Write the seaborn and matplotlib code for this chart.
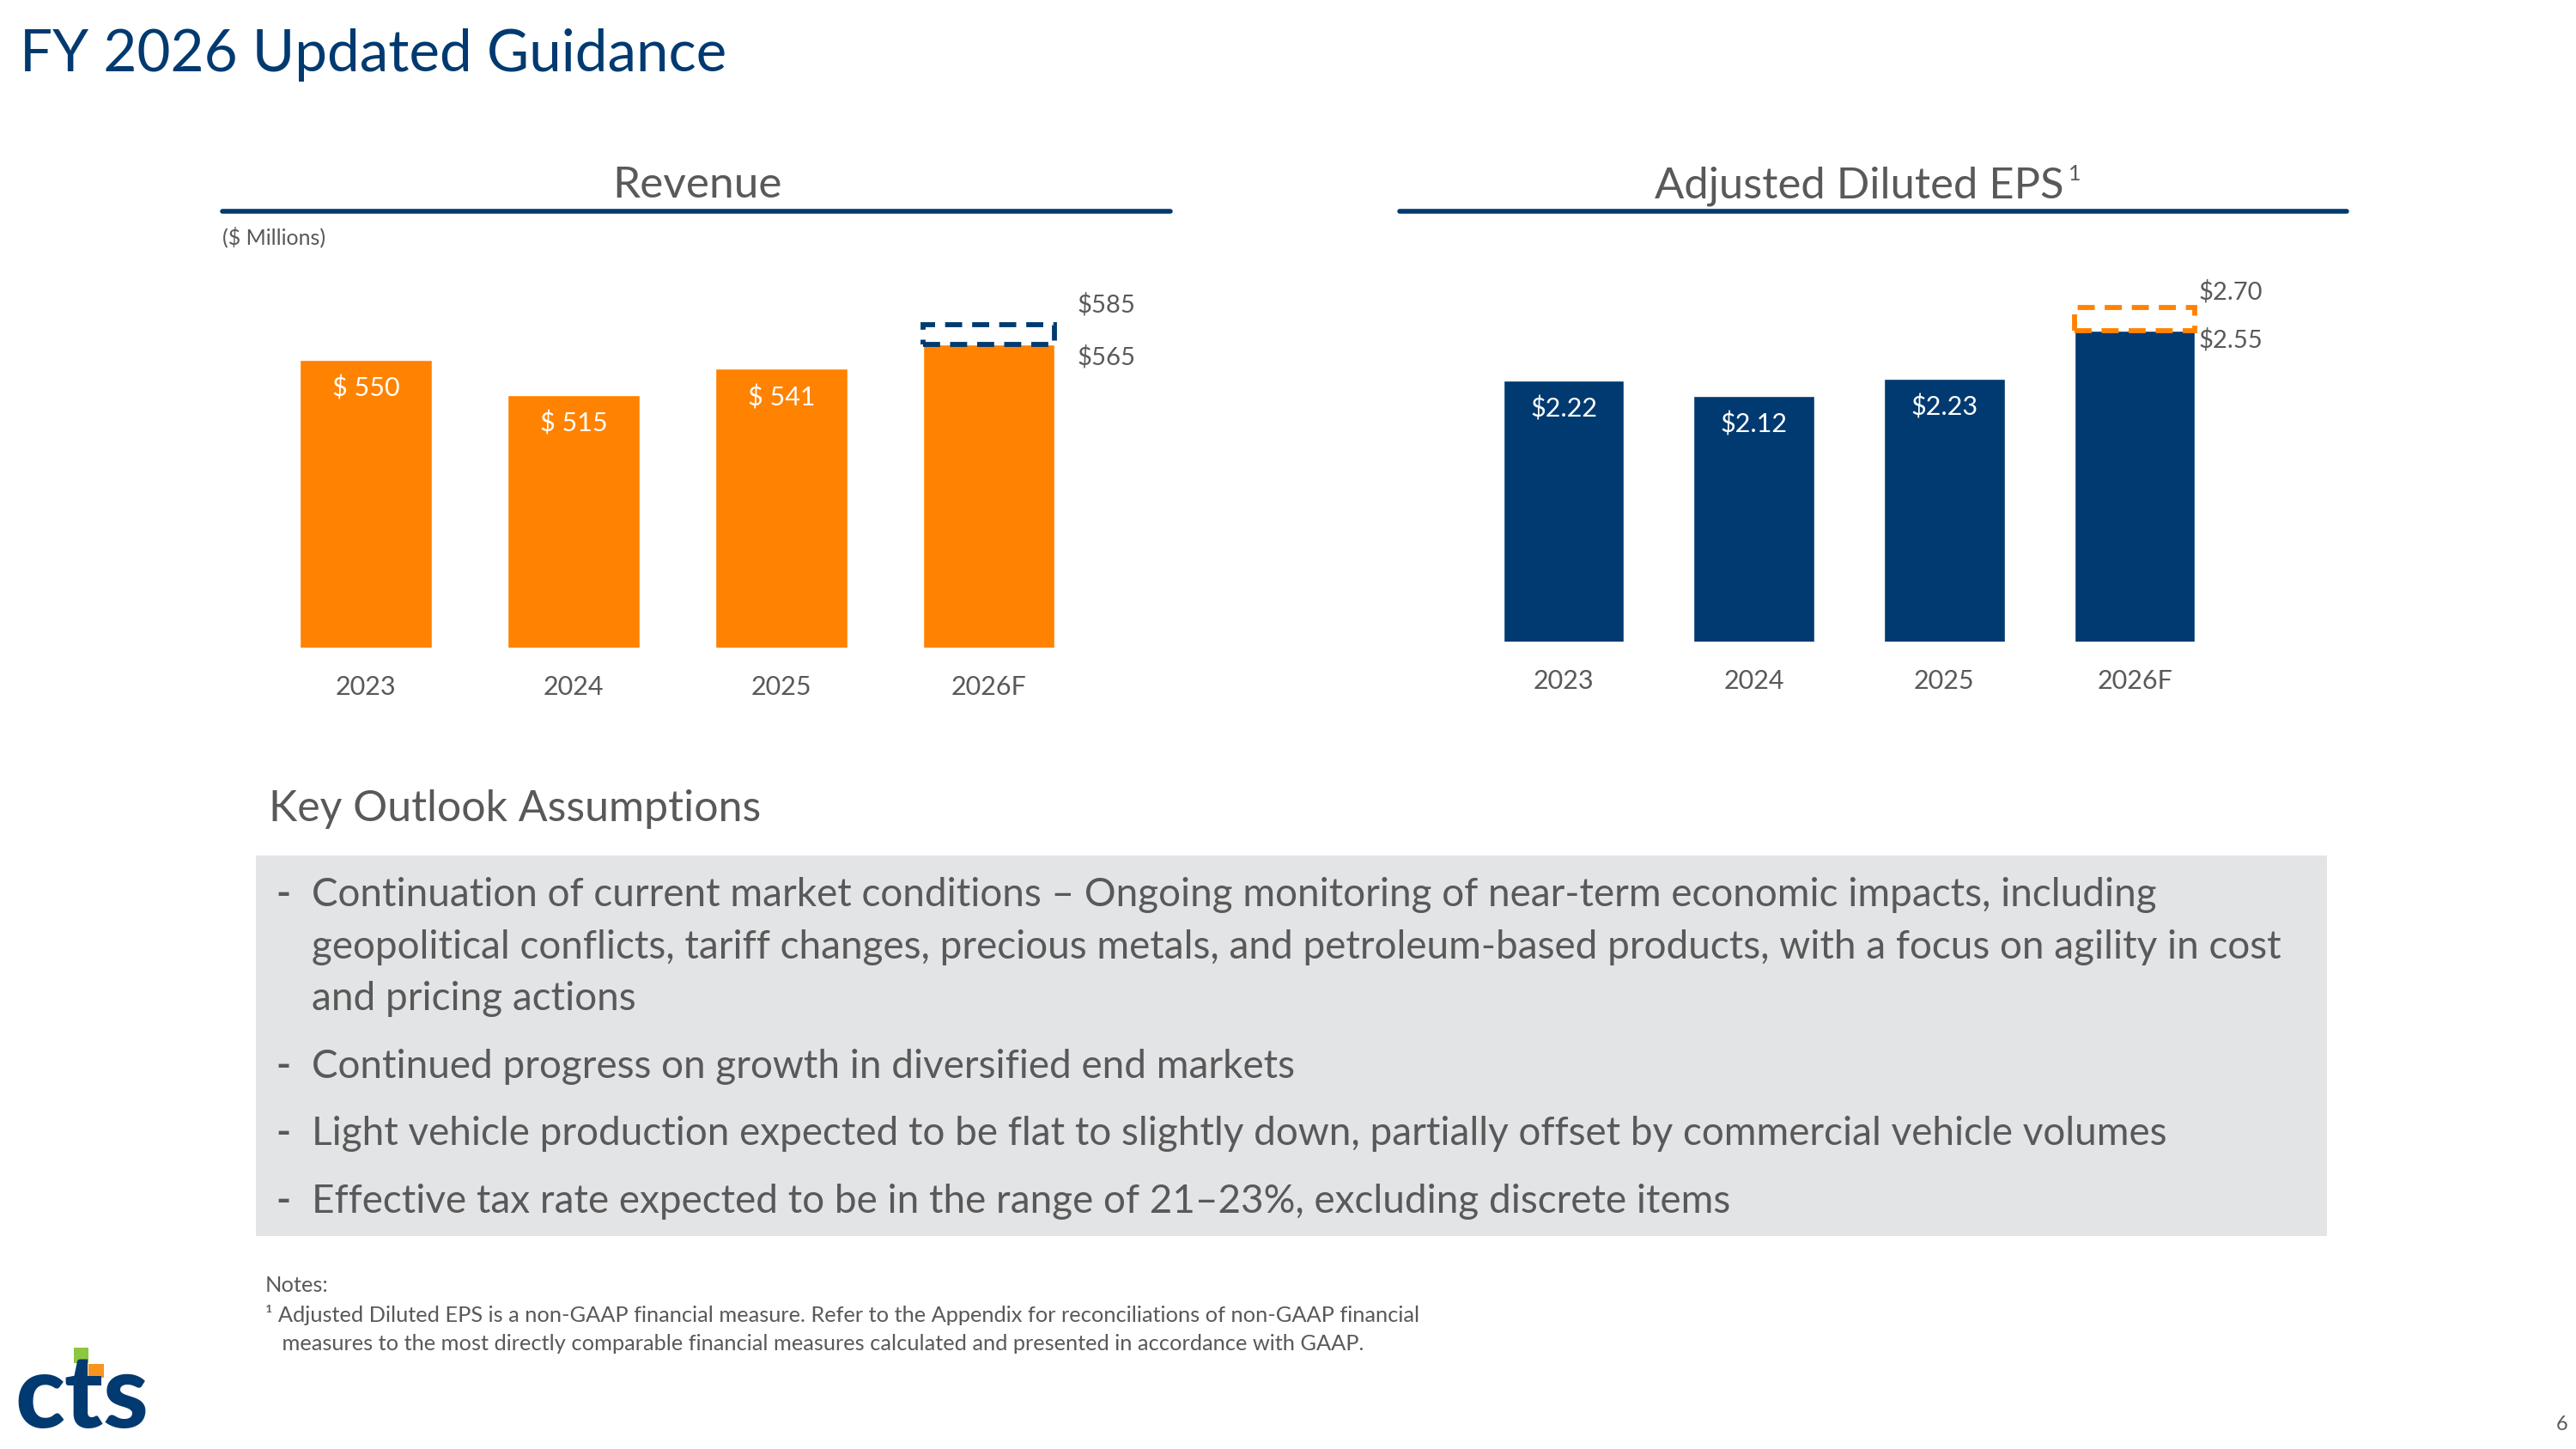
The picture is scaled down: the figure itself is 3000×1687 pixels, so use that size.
import numpy as np
import pandas as pd
import matplotlib
matplotlib.use("Agg")
import matplotlib.pyplot as plt
import seaborn as sns
from matplotlib.lines import Line2D
from matplotlib.patches import Rectangle

# --- data ---
years = ["2023", "2024", "2025", "2026F"]
revenue = [550, 515, 541, 565]
revenue_labels = ["$ 550", "$ 515", "$ 541", ""]
revenue_low, revenue_high = 565, 585
eps = [2.22, 2.12, 2.23, 2.55]
eps_labels = ["$2.22", "$2.12", "$2.23", ""]
eps_low, eps_high = 2.55, 2.70

bullets = [
    ["Continuation of current market conditions \u2013 Ongoing monitoring of near-term economic impacts, including",
     "geopolitical conflicts, tariff changes, precious metals, and petroleum-based products, with a focus on agility in cost",
     "and pricing actions"],
    ["Continued progress on growth in diversified end markets"],
    ["Light vehicle production expected to be flat to slightly down, partially offset by commercial vehicle volumes"],
    ["Effective tax rate expected to be in the range of 21\u201323%, excluding discrete items"],
]
notes = [
    "Notes:",
    "\u00b9 Adjusted Diluted EPS is a non-GAAP financial measure. Refer to the Appendix for reconciliations of non-GAAP financial",
    "   measures to the most directly comparable financial measures calculated and presented in accordance with GAAP.",
]

NAVY = "#003A70"
ORANGE = "#FF8200"
GREY = "#595959"
BOX = "#E3E4E6"

sns.set_theme(style="white")
plt.rcParams["font.family"] = ["Lato", "DejaVu Sans"]

fig = plt.figure(figsize=(30, 16.87), dpi=100)

# layout measured on a 1563 px wide view of the slide
W0, H0 = 1563.0, 879.0
def fx(x): return x / W0
def fy(y): return 1 - y / H0
def rect(x0, y0, x1, y1): return [fx(x0), fy(y1), fx(x1) - fx(x0), (y1 - y0) / H0]


def bar_panel(ax, values, labels, low, high, color, edge, ylim, pad):
    df = pd.DataFrame({"year": years, "value": values})
    sns.barplot(data=df, x="year", y="value", color=color, saturation=1,
                width=0.635, errorbar=None, ax=ax)
    ax.set_xlim(-0.5, len(years) - 0.5)
    ax.set_ylim(*ylim)
    ax.set_xlabel(""); ax.set_ylabel("")
    ax.set_yticks([])
    ax.tick_params(axis="x", length=0, pad=pad, labelsize=22, labelcolor=GREY)
    sns.despine(ax=ax, left=True, bottom=True)
    bars = ax.patches[:len(values)]
    for p, lab in zip(bars, labels):
        if lab:
            ax.annotate(lab, xy=(p.get_x() + p.get_width() / 2, p.get_height()),
                        xytext=(0, -24), textcoords="offset points",
                        ha="center", va="center", color="white", fontsize=22)
    last = bars[-1]
    ax.add_patch(Rectangle((last.get_x(), low), last.get_width(), high - low,
                           fill=False, edgecolor=edge, linewidth=4.2,
                           linestyle=(0, (3.4, 2)), clip_on=False, zorder=5))
    return last


# Revenue panel
ax1 = fig.add_axes(rect(159, 160, 663, 393))
last = bar_panel(ax1, revenue, revenue_labels, revenue_low, revenue_high, ORANGE, NAVY, (262, 646), 23)
xr = last.get_x() + last.get_width()
ax1.annotate(f"${revenue_high}", xy=(xr, revenue_high), xytext=(19, 17), textcoords="offset points",
             ha="left", va="center", color=GREY, fontsize=21, annotation_clip=False)
ax1.annotate(f"${revenue_low}", xy=(xr, revenue_low), xytext=(19, -10), textcoords="offset points",
             ha="left", va="center", color=GREY, fontsize=21, annotation_clip=False)

# EPS panel
ax2 = fig.add_axes(rect(891, 160, 1353, 389))
last = bar_panel(ax2, eps, eps_labels, eps_low, eps_high, NAVY, ORANGE, (0.5, 2.989), 23)
xr = last.get_x() + last.get_width()
ax2.annotate(f"${eps_high:.2f}", xy=(xr, eps_high), xytext=(3, 13), textcoords="offset points",
             ha="left", va="center", color=GREY, fontsize=21, annotation_clip=False)
ax2.annotate(f"${eps_low:.2f}", xy=(xr, eps_low), xytext=(3, -8), textcoords="offset points",
             ha="left", va="center", color=GREY, fontsize=21, annotation_clip=False)

# headers and underlines
fig.text(fx(12), fy(43), "FY 2026 Updated Guidance", color=NAVY, fontsize=48.5, ha="left", va="baseline")
fig.text(fx(423), fy(120), "Revenue", color=GREY, fontsize=37, ha="center", va="baseline")
t_eps = fig.text(fx(1128), fy(120), "Adjusted Diluted EPS", color=GREY, fontsize=36.5,
                 ha="center", va="baseline")
ax2.annotate("1", xy=(1, 1), xycoords=t_eps, xytext=(4, 2), textcoords="offset points",
             ha="left", va="top", color=GREY, fontsize=18, annotation_clip=False)
for x0, x1 in [(135, 710), (849, 1424)]:
    fig.add_artist(Line2D([fx(x0), fx(x1)], [fy(128), fy(128)], color=NAVY, linewidth=4,
                          transform=fig.transFigure))
fig.text(fx(135), fy(144), "($ Millions)", color=GREY, fontsize=18, ha="left", va="center")

# key outlook assumptions
fig.text(fx(163), fy(491), "Key Outlook Assumptions", color=GREY, fontsize=36, ha="left", va="center")
fig.add_artist(Rectangle((fx(155), fy(750)), fx(1412) - fx(155), (750 - 519) / H0,
                         facecolor=BOX, edgecolor="none", transform=fig.transFigure, zorder=0))
y = 543
for item in bullets:
    fig.text(fx(172), fy(y), "-", color=GREY, fontsize=33, fontweight="bold", ha="center", va="center")
    for line in item:
        fig.text(fx(189), fy(y), line, color=GREY, fontsize=33, ha="left", va="center")
        y += 31.5
    y += 9.5

# notes
for i, line in enumerate(notes):
    fig.text(fx(161), fy(780 + 17.5 * i), line, color=GREY, fontsize=18.3, ha="left", va="center")
fig.text(fx(1558), fy(864), "6", color=GREY, fontsize=17, ha="right", va="center")

# logo
fig.text(fx(9), fy(866), "cts", color=NAVY, fontsize=86, fontweight="black", ha="left", va="baseline")
fig.add_artist(Rectangle((fx(45), fy(827)), fx(8.5), 9.5 / H0, facecolor="#8DC63F",
                         edgecolor="none", transform=fig.transFigure))
fig.add_artist(Rectangle((fx(53.5), fy(836)), fx(9.5), 8.5 / H0, facecolor="#F7941D",
                         edgecolor="none", transform=fig.transFigure))

fig.savefig("out.png", dpi=100, facecolor="white")
